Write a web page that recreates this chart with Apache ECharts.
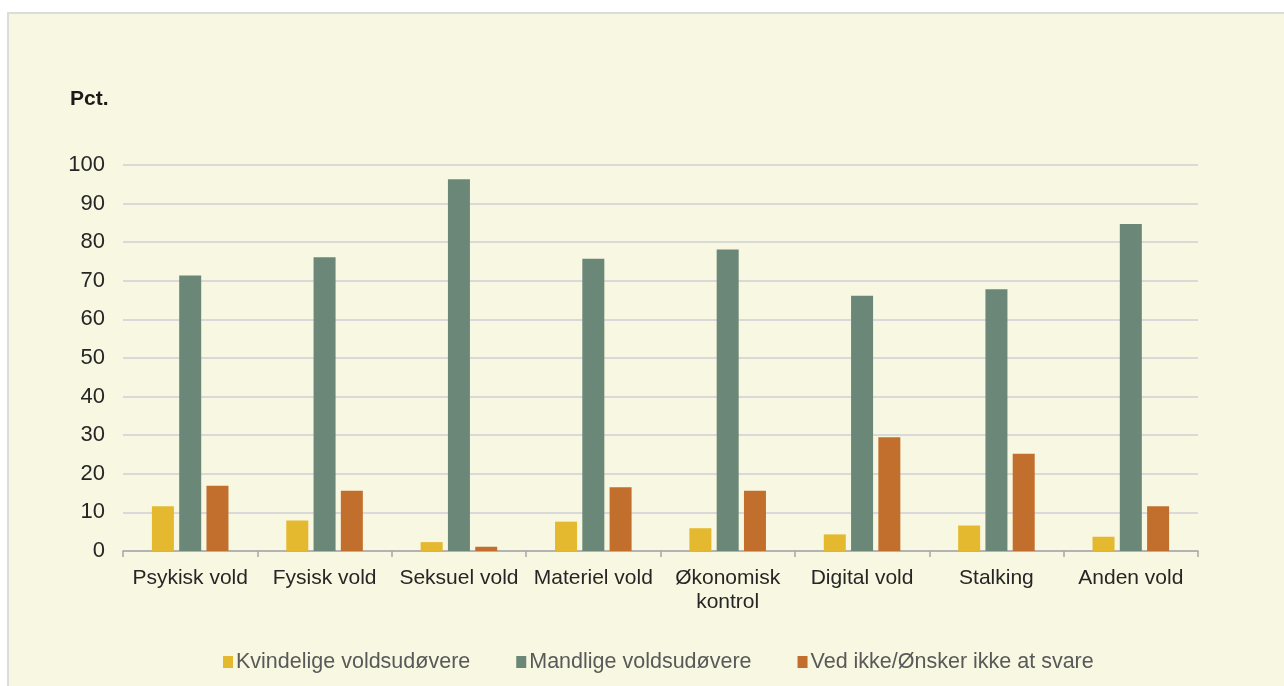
<!DOCTYPE html>
<html>
<head>
<meta charset="utf-8">
<script src="https://cdn.jsdelivr.net/npm/echarts@6/dist/echarts.min.js"></script>
<style>
  html, body { margin: 0; padding: 0; background: #ffffff; }
  #chart { width: 1284px; height: 686px; }
</style>
</head>
<body>
<div id="chart"></div>
<script>
const categories = ["Psykisk vold", "Fysisk vold", "Seksuel vold", "Materiel vold", "Økonomisk\nkontrol", "Digital vold", "Stalking", "Anden vold"]
const seriesNames = ["Kvindelige voldsudøvere", "Mandlige voldsudøvere", "Ved ikke/Ønsker ikke at svare"]
const kvinder = [11.6, 7.9, 2.3, 7.6, 5.9, 4.3, 6.6, 3.7]
const maend = [71.4, 76.1, 96.3, 75.7, 78.1, 66.1, 67.8, 84.7]
const vedIkke = [16.9, 15.6, 1.1, 16.5, 15.6, 29.5, 25.2, 11.6]
const yTicks = [0, 10, 20, 30, 40, 50, 60, 70, 80, 90, 100]

const colors = ["#e4b92f", "#6b8777", "#c26f2e"]

const chart = echarts.init(document.getElementById("chart"))

function barSeries(name, data, color) {
  return {
    name: name,
    type: "bar",
    data: data,
    barWidth: 22,
    barGap: "24%",
    itemStyle: { color: color },
  }
}

const option = {
  backgroundColor: "#ffffff",
  animation: false,
  color: colors,
  graphic: [
    {
      type: "rect",
      z: -10,
      shape: { x: 8, y: 13, width: 1300, height: 700 },
      style: { fill: "#f8f7e1", stroke: "#dcdcdc", lineWidth: 2 },
    },
  ],
  title: {
    text: "Pct.",
    left: 65,
    top: 84,
    textStyle: { fontFamily: "Liberation Sans", fontSize: 21, fontWeight: "bold", color: "#1a1a1a" },
  },
  legend: {
    data: seriesNames,
    left: 218,
    top: 646,
    itemWidth: 10,
    itemHeight: 12,
    itemGap: 46,
    icon: "rect",
    textStyle: { fontFamily: "Liberation Sans", fontSize: 21.5, color: "#595959", padding: [0, 0, 0, -2] },
  },
  grid: {
    left: 123,
    right: 86,
    top: 165,
    bottom: 135,
  },
  xAxis: {
    type: "category",
    data: categories,
    axisLine: { lineStyle: { color: "#a6a6a6", width: 1.5 } },
    axisTick: { show: true, length: 6, lineStyle: { color: "#a6a6a6", width: 1.5 } },
    axisLabel: {
      interval: 0,
      margin: 15,
      fontFamily: "Liberation Sans",
      fontSize: 21,
      lineHeight: 24,
      color: "#262626",
    },
  },
  yAxis: {
    type: "value",
    min: yTicks[0],
    max: yTicks[yTicks.length - 1],
    interval: 10,
    axisLine: { show: false },
    axisTick: { show: false },
    splitLine: { lineStyle: { color: "#d9d9d9", width: 2 } },
    axisLabel: {
      margin: 18,
      fontFamily: "Liberation Sans",
      fontSize: 22,
      color: "#262626",
    },
  },
  series: [
    barSeries(seriesNames[0], kvinder, colors[0]),
    barSeries(seriesNames[1], maend, colors[1]),
    barSeries(seriesNames[2], vedIkke, colors[2]),
  ],
}

chart.setOption(option)
</script>
</body>
</html>
